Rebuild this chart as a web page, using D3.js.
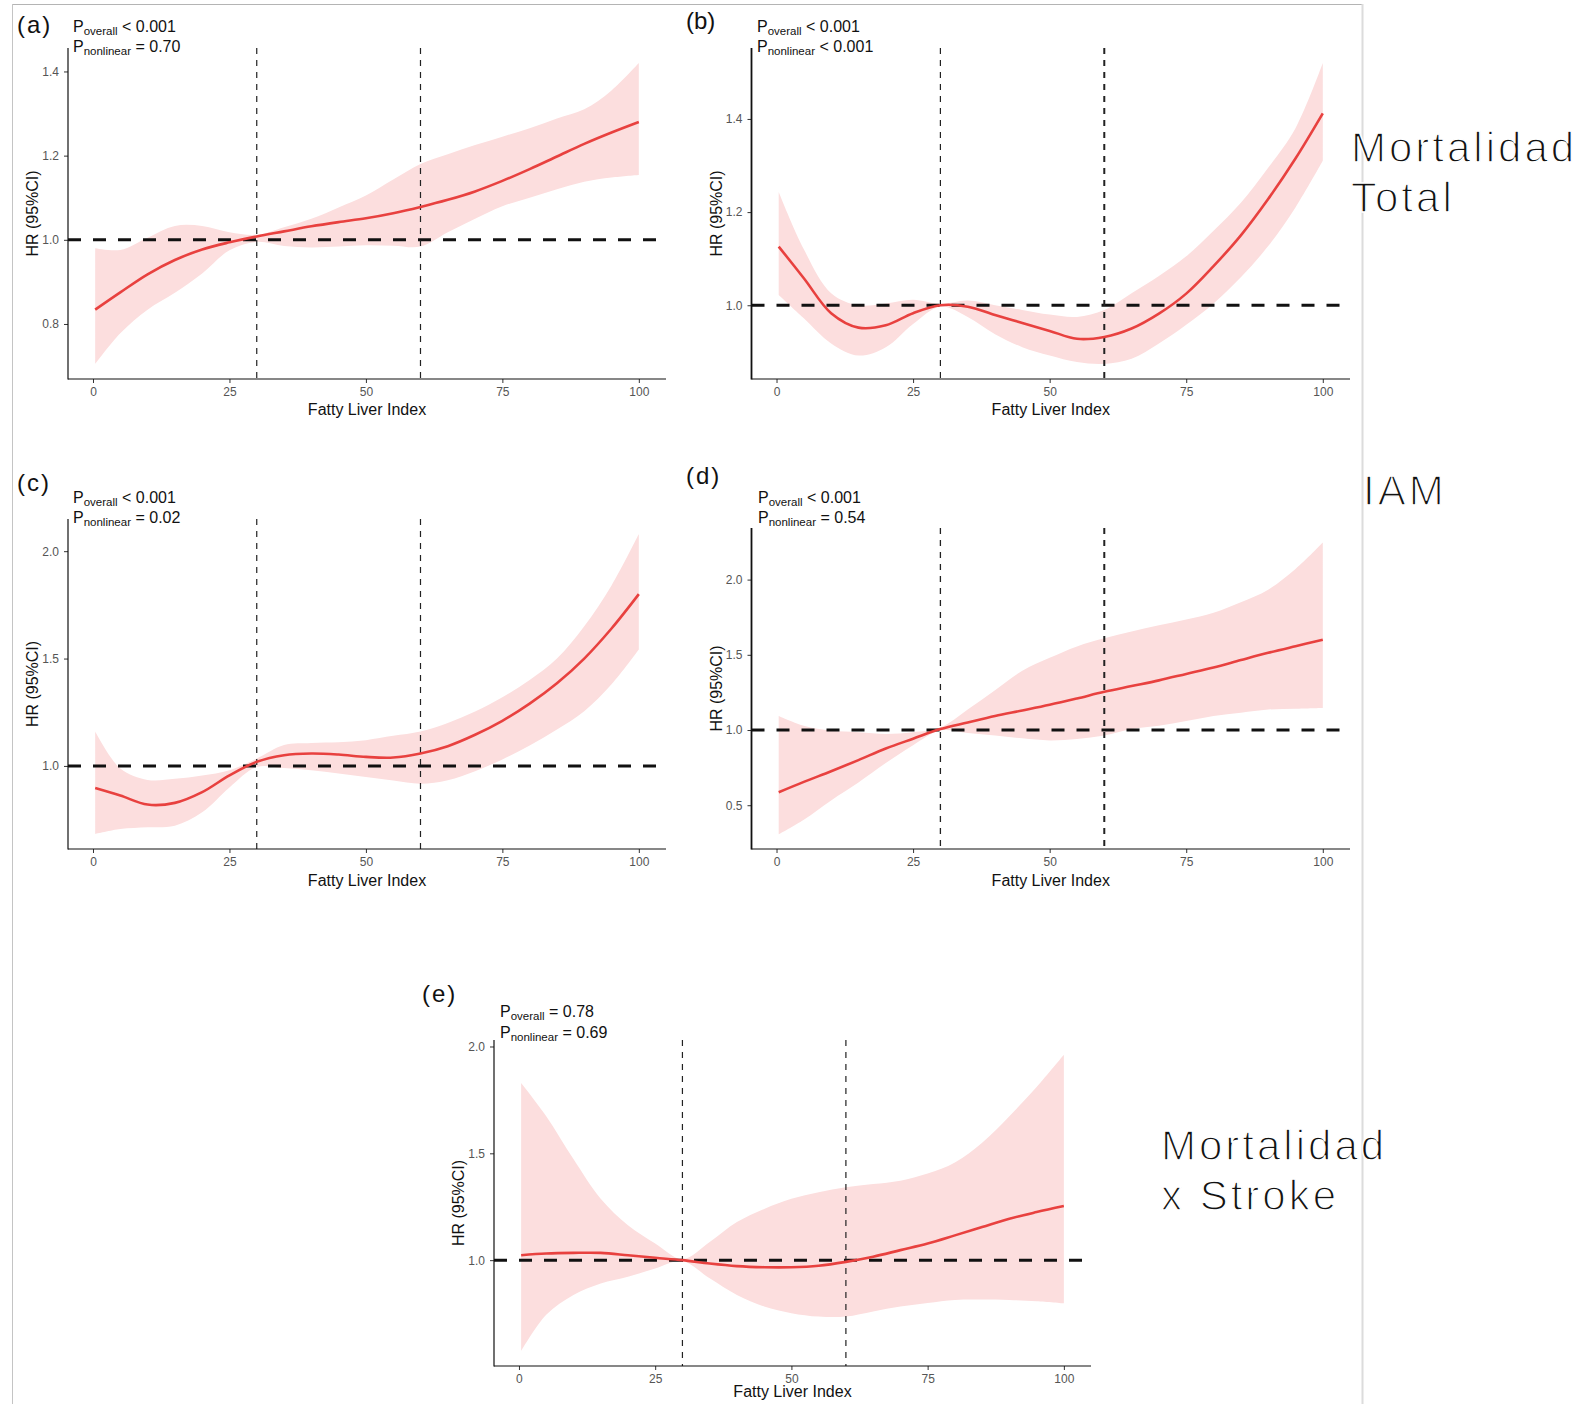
<!DOCTYPE html>
<html lang="es">
<head>
<meta charset="UTF-8">
<title>Fatty Liver Index - HR (95%CI)</title>
<script src="https://d3js.org/d3.v7.min.js"></script>
<style>
  body { margin: 0; background: #fff; }
  svg text { font-family: "Liberation Sans", Arial, sans-serif; }
</style>
</head>
<body>
<svg id="chart" width="1588" height="1404"></svg>
<script>
// valores
const fli = [0.4, 5, 10, 15, 20, 25, 30, 35, 40, 45, 50, 55, 60, 65, 70, 75, 80, 85, 90, 95, 100];
const xTicks = [0, 25, 50, 75, 100];
const cutPoints = [30, 60];
const refHR = 1;

// (a)
const hrA = [0.834, 0.875, 0.918, 0.952, 0.977, 0.994, 1.008, 1.02, 1.032, 1.042, 1.051, 1.063, 1.078, 1.095, 1.115, 1.14, 1.168, 1.198, 1.228, 1.255, 1.28];
const loA = [0.705, 0.778, 0.834, 0.874, 0.92, 0.975, 0.995, 0.985, 0.982, 0.984, 0.987, 0.986, 0.984, 1.018, 1.05, 1.08, 1.10, 1.12, 1.138, 1.148, 1.154];
const upA = [0.98, 0.976, 1.005, 1.033, 1.033, 1.018, 1.012, 1.03, 1.05, 1.077, 1.105, 1.143, 1.18, 1.203, 1.225, 1.245, 1.265, 1.288, 1.31, 1.355, 1.42];
const yTicksA = [0.8, 1.0, 1.2, 1.4];

// (b)
const hrB = [1.126, 1.058, 0.983, 0.952, 0.957, 0.983, 1.0, 0.997, 0.979, 0.962, 0.945, 0.928, 0.932, 0.95, 0.982, 1.025, 1.084, 1.15, 1.228, 1.315, 1.412];
const loB = [1.022, 0.972, 0.918, 0.892, 0.91, 0.96, 0.997, 0.975, 0.938, 0.91, 0.892, 0.878, 0.874, 0.885, 0.918, 0.958, 1.004, 1.06, 1.127, 1.21, 1.31];
const upB = [1.243, 1.12, 1.026, 1.0, 1.004, 1.012, 1.003, 1.01, 1.0, 0.99, 0.98, 0.975, 0.99, 1.026, 1.063, 1.105, 1.16, 1.22, 1.295, 1.38, 1.52];
const yTicksB = [1.0, 1.2, 1.4];

// (c)
const hrC = [0.897, 0.862, 0.82, 0.828, 0.878, 0.956, 1.019, 1.05, 1.058, 1.053, 1.042, 1.039, 1.058, 1.092, 1.145, 1.21, 1.29, 1.385, 1.5, 1.64, 1.8];
const loC = [0.683, 0.706, 0.714, 0.722, 0.784, 0.90, 0.995, 0.99, 0.98, 0.965, 0.948, 0.932, 0.917, 0.933, 0.975, 1.03, 1.095, 1.17, 1.255, 1.38, 1.542];
const upC = [1.16, 0.988, 0.935, 0.94, 0.955, 0.98, 1.034, 1.097, 1.107, 1.11, 1.12, 1.14, 1.16, 1.2, 1.253, 1.32, 1.40, 1.5, 1.65, 1.84, 2.08];
const yTicksC = [1.0, 1.5, 2.0];

// (d)
const hrD = [0.586, 0.655, 0.726, 0.8, 0.877, 0.942, 1.006, 1.05, 1.093, 1.13, 1.168, 1.21, 1.254, 1.292, 1.33, 1.373, 1.416, 1.465, 1.513, 1.557, 1.60];
const loD = [0.306, 0.403, 0.532, 0.651, 0.78, 0.899, 0.996, 0.98, 0.963, 0.945, 0.931, 0.94, 0.963, 1.006, 1.028, 1.06, 1.093, 1.115, 1.136, 1.142, 1.147];
const upD = [1.093, 1.028, 0.996, 0.985, 0.974, 0.985, 1.016, 1.136, 1.265, 1.394, 1.48, 1.556, 1.61, 1.655, 1.696, 1.735, 1.78, 1.85, 1.933, 2.07, 2.246];
const yTicksD = [0.5, 1.0, 1.5, 2.0];

// (e)
const hrE = [1.023, 1.031, 1.034, 1.034, 1.023, 1.011, 1.0, 0.984, 0.972, 0.967, 0.967, 0.974, 0.992, 1.016, 1.047, 1.078, 1.116, 1.155, 1.194, 1.225, 1.253];
const loE = [0.574, 0.744, 0.837, 0.891, 0.922, 0.961, 0.995, 0.915, 0.837, 0.783, 0.752, 0.736, 0.736, 0.76, 0.783, 0.80, 0.814, 0.816, 0.814, 0.808, 0.798];
const upE = [1.829, 1.674, 1.473, 1.287, 1.163, 1.078, 1.005, 1.085, 1.178, 1.24, 1.287, 1.318, 1.341, 1.356, 1.372, 1.405, 1.457, 1.55, 1.674, 1.81, 1.961];
const yTicksE = [1.0, 1.5, 2.0];

const pOverall = ["< 0.001", "< 0.001", "< 0.001", "< 0.001", "= 0.78"];
const pNonlinear = ["= 0.70", "< 0.001", "= 0.02", "= 0.54", "= 0.69"];
const panelLabels = ["(a)", "(b)", "(c)", "(d)", "(e)"];

// posiciones de cada panel (pixeles)
const panels = [
  { label: 0, hr: hrA, lo: loA, up: upA, ticks: yTicksA, left: 68, right: 666, top: 48, bottom: 379,
    lab: [17, 33], ann: [73, 31.7], xTitle: 36, labSerif: true, axisW: 1.2, cutW: [1.2, 1.2] },
  { label: 1, hr: hrB, lo: loB, up: upB, ticks: yTicksB, left: 751.5, right: 1350, top: 48, bottom: 379,
    lab: [686, 29], ann: [757, 31.7], xTitle: 36, labSerif: false, axisW: 1.8, cutW: [1.2, 2] },
  { label: 2, hr: hrC, lo: loC, up: upC, ticks: yTicksC, left: 68, right: 666, top: 519, bottom: 849,
    lab: [17, 491], ann: [73, 502.7], xTitle: 37, labSerif: true, axisW: 1.2, cutW: [1.2, 1.2] },
  { label: 3, hr: hrD, lo: loD, up: upD, ticks: yTicksD, left: 751.5, right: 1350, top: 528, bottom: 849,
    lab: [686, 484], ann: [758, 502.7], xTitle: 37, labSerif: true, axisW: 1.8, cutW: [1.3, 2] },
  { label: 4, hr: hrE, lo: loE, up: upE, ticks: yTicksE, left: 494, right: 1091, top: 1040, bottom: 1366,
    lab: [422, 1002], ann: [500, 1017.3], xTitle: 31, labSerif: true, axisW: 1.2, cutW: [1.2, 1.2] }
];

const svg = d3.select("#chart");

// marco gris de la diapositiva
svg.append("line").attr("x1", 12).attr("x2", 1362).attr("y1", 4.5).attr("y2", 4.5)
  .attr("stroke", "#b4b4b4").attr("stroke-width", 1);
svg.append("line").attr("x1", 12.5).attr("x2", 12.5).attr("y1", 4).attr("y2", 1404)
  .attr("stroke", "#c4c4c4").attr("stroke-width", 1);
svg.append("line").attr("x1", 1362.5).attr("x2", 1362.5).attr("y1", 4).attr("y2", 1404)
  .attr("stroke", "#dcdcdc").attr("stroke-width", 2);

function expand(ext) {
  const pad = (ext[1] - ext[0]) * 0.05;
  return [ext[0] - pad, ext[1] + pad];
}

panels.forEach(p => {
  const g = svg.append("g");
  const x = d3.scaleLinear().domain(expand(d3.extent(fli))).range([p.left, p.right]);
  const yExt = [d3.min(p.lo), d3.max(p.up)];
  const y = d3.scaleLinear().domain(expand(yExt)).range([p.bottom, p.top]);

  const rows = fli.map((v, i) => ({ x: v, hr: p.hr[i], lo: p.lo[i], up: p.up[i] }));

  // banda IC 95%
  g.append("path").datum(rows)
    .attr("fill", "#fcdede")
    .attr("d", d3.area().curve(d3.curveCatmullRom.alpha(0.5))
      .x(d => x(d.x)).y0(d => y(d.lo)).y1(d => y(d.up)));

  // linea de referencia HR = 1
  g.append("line")
    .attr("x1", p.left).attr("x2", p.right)
    .attr("y1", y(refHR)).attr("y2", y(refHR))
    .attr("stroke", "#111").attr("stroke-width", 3)
    .attr("stroke-dasharray", "13,12");

  // puntos de corte
  cutPoints.forEach((c, i) => {
    g.append("line")
      .attr("x1", x(c)).attr("x2", x(c))
      .attr("y1", p.top).attr("y2", p.bottom)
      .attr("stroke", "#222").attr("stroke-width", p.cutW[i])
      .attr("stroke-dasharray", "6,6");
  });

  // curva HR
  g.append("path").datum(rows)
    .attr("fill", "none")
    .attr("stroke", "#e8413f").attr("stroke-width", 2.6)
    .attr("d", d3.line().curve(d3.curveCatmullRom.alpha(0.5))
      .x(d => x(d.x)).y(d => y(d.hr)));

  // ejes
  const xAxis = g.append("g").attr("transform", `translate(0,${p.bottom})`)
    .call(d3.axisBottom(x).tickValues(xTicks).tickSize(4).tickPadding(4));
  const yAxis = g.append("g").attr("transform", `translate(${p.left},0)`)
    .call(d3.axisLeft(y).tickValues(p.ticks).tickFormat(d3.format(".1f")).tickSize(4).tickPadding(5));

  [xAxis, yAxis].forEach(a => {
    a.select(".domain").remove();
    a.selectAll(".tick line").attr("stroke", "#333").attr("stroke-width", 1);
    a.selectAll(".tick text").attr("fill", "#555").attr("font-size", 12)
      .attr("font-family", "'Liberation Sans', Arial, sans-serif");
  });
  g.append("line").attr("x1", p.left).attr("x2", p.right)
    .attr("y1", p.bottom).attr("y2", p.bottom)
    .attr("stroke", "#111").attr("stroke-width", 1.2);
  g.append("line").attr("x1", p.left).attr("x2", p.left)
    .attr("y1", p.top).attr("y2", p.bottom + 0.6)
    .attr("stroke", "#111").attr("stroke-width", p.axisW);

  // titulos de ejes
  g.append("text")
    .attr("x", (p.left + p.right) / 2).attr("y", p.bottom + p.xTitle)
    .attr("text-anchor", "middle").attr("font-size", 16).attr("fill", "#111")
    .text("Fatty Liver Index");
  g.append("text")
    .attr("transform", `translate(${p.left - 30},${(p.top + p.bottom) / 2}) rotate(-90)`)
    .attr("text-anchor", "middle").attr("font-size", 16).attr("fill", "#111")
    .text("HR (95%CI)");

  // etiqueta del panel
  g.append("text")
    .attr("x", p.lab[0]).attr("y", p.lab[1])
    .attr("font-size", 24)
    .attr("letter-spacing", p.labSerif ? 2 : 0)
    .attr("font-family", p.labSerif ? "'Liberation Serif', 'Times New Roman', serif" : "'Liberation Sans', Arial, sans-serif")
    .attr("fill", "#111")
    .text(panelLabels[p.label]);

  // valores P
  [[ "overall", pOverall[p.label] ], [ "nonlinear", pNonlinear[p.label] ]].forEach((r, i) => {
    const t = g.append("text")
      .attr("x", p.ann[0]).attr("y", p.ann[1] + i * 20.5)
      .attr("font-size", 16).attr("fill", "#111");
    t.append("tspan").text("P");
    t.append("tspan").attr("dy", 3).attr("font-size", 11.5).text(r[0]);
    t.append("tspan").attr("dy", -3).text(" " + r[1]);
  });
});

// rotulos de la diapositiva
const sideLabels = [
  { lines: ["Mortalidad", "Total"], x: 1351, y: 161.7 },
  { lines: ["IAM"], x: 1363, y: 505 },
  { lines: ["Mortalidad", "x Stroke"], x: 1161, y: 1160 }
];
sideLabels.forEach(s => {
  s.lines.forEach((l, i) => {
    svg.append("text")
      .attr("x", s.x).attr("y", s.y + i * 50)
      .attr("font-family", "'DejaVu Sans', sans-serif")
      .attr("font-size", 42).attr("letter-spacing", 3)
      .attr("fill", "#111")
      .attr("stroke", "#fff").attr("stroke-width", 1.4)
      .text(l);
  });
});
</script>
</body>
</html>
